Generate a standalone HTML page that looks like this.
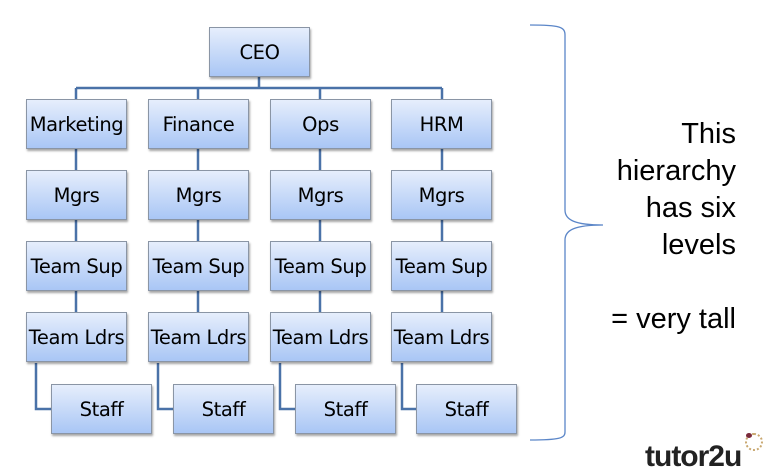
<html><head><style>
body{margin:0;width:767px;height:474px;background:#fff;position:relative;overflow:hidden;font-family:"DejaVu Sans","Liberation Sans",sans-serif}
.b{position:absolute;width:99px;height:48px;border:1px solid #8a95a5;background:linear-gradient(#e6eefc,#a9c6f5);box-shadow:1px 2px 2px rgba(0,0,0,.35);display:flex;align-items:center;justify-content:center;font-size:19.5px;color:#000;letter-spacing:-0.4px}
.t{position:absolute;right:31px;text-align:right;font-family:"Liberation Sans",sans-serif;font-size:29px;line-height:37px;top:116px}
</style></head><body>
<svg width="767" height="474" style="position:absolute;left:0;top:0">
<g stroke="#4a72a8" stroke-width="2.5" fill="none">
<path d="M259 77V88M76 88H442M76 88V99M198 88V99M320 88V99M442 88V99"/>
<path d="M76 148V170M198 148V170M320 148V170M442 148V170"/>
<path d="M76 219V241M198 219V241M320 219V241M442 219V241"/>
<path d="M76 290V312M198 290V312M320 290V312M442 290V312"/>
<path d="M36 363V409H51M158 363V409H173M280 363V409H295M402 363V409H416"/>
</g>
<path d="M530 25C560 25 565 27 565 35V210C565 220 575 225 603 225C575 225 565 230 565 240V432C565 438 560 440 530 440" stroke="#5b86c8" stroke-width="1.3" fill="none"/>
</svg>
<div class="b" style="left:209px;top:27px">CEO</div>
<div class="b" style="left:26px;top:99px">Marketing</div>
<div class="b" style="left:148px;top:99px">Finance</div>
<div class="b" style="left:270px;top:99px">Ops</div>
<div class="b" style="left:391px;top:99px">HRM</div>
<div class="b" style="left:26px;top:170px">Mgrs</div>
<div class="b" style="left:148px;top:170px">Mgrs</div>
<div class="b" style="left:270px;top:170px">Mgrs</div>
<div class="b" style="left:391px;top:170px">Mgrs</div>
<div class="b" style="left:26px;top:241px">Team Sup</div>
<div class="b" style="left:148px;top:241px">Team Sup</div>
<div class="b" style="left:270px;top:241px">Team Sup</div>
<div class="b" style="left:391px;top:241px">Team Sup</div>
<div class="b" style="left:26px;top:312px">Team Ldrs</div>
<div class="b" style="left:148px;top:312px">Team Ldrs</div>
<div class="b" style="left:270px;top:312px">Team Ldrs</div>
<div class="b" style="left:391px;top:312px">Team Ldrs</div>
<div class="b" style="left:51px;top:384px">Staff</div>
<div class="b" style="left:173px;top:384px">Staff</div>
<div class="b" style="left:295px;top:384px">Staff</div>
<div class="b" style="left:416px;top:384px">Staff</div>
<div class="t">This<br>hierarchy<br>has six<br>levels<br><br>= very tall</div>
<div style="position:absolute;left:645px;top:440px;font-family:'Liberation Sans',sans-serif;font-weight:bold;font-size:30px;color:#222;letter-spacing:-1px">tutor2u</div>
<div style="position:absolute;left:745px;top:433px;width:14px;height:14px;border-radius:50%;border:2px dotted #c9a870"></div>
<div style="position:absolute;left:746px;top:433px;width:6px;height:5px;border-radius:50%;background:#7a2a3a"></div>
</body></html>
